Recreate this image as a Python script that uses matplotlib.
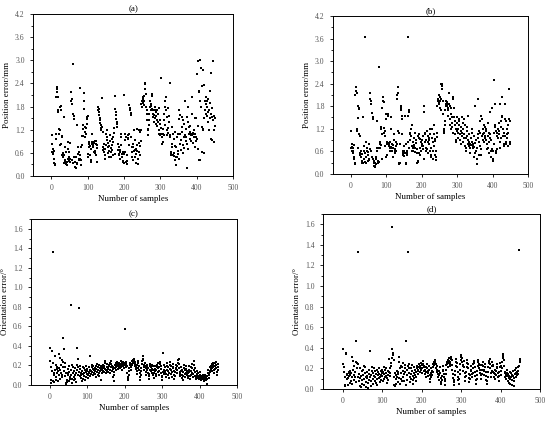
import numpy as np
import matplotlib
matplotlib.use("Agg")
import matplotlib.pyplot as plt
from matplotlib.ticker import MultipleLocator, FormatStrFormatter

plt.rcParams['font.family'] = ['Liberation Serif', 'DejaVu Serif']

# (a) position error, method 1 (mm)
pos_a = [
    1.05, 0.82, 0.63, 0.58, 0.69, 0.60, 0.66, 0.43, 0.33, 0.30,
    0.28, 0.95, 1.10, 2.05, 2.25, 2.30, 2.17, 2.04, 1.65, 1.70,
    1.10, 1.22, 1.20, 0.80, 1.78, 1.82, 1.70, 0.84, 1.00, 1.03,
    0.54, 0.50, 0.60, 0.55, 1.52, 0.33, 0.75, 0.41, 0.37, 0.30,
    0.63, 0.33, 0.37, 0.28, 0.45, 0.88, 0.71, 0.50, 0.40, 0.63,
    0.35, 0.45, 0.85, 2.17, 1.95, 1.87, 2.00, 0.41, 0.33, 2.91,
    1.61, 1.48, 1.55, 0.50, 0.37, 0.24, 0.20, 0.50, 0.20, 0.33,
    0.30, 1.31, 0.75, 0.58, 0.45, 0.41, 0.62, 0.55, 0.45, 2.28,
    0.41, 0.28, 0.75, 0.80, 1.03, 1.03, 1.22, 1.31, 1.74, 2.14,
    1.95, 1.27, 1.14, 1.01, 1.25, 1.10, 1.52, 1.48, 1.35, 1.55,
    0.58, 0.50, 0.75, 0.84, 0.88, 0.78, 0.54, 0.41, 0.37, 0.70,
    1.10, 0.88, 0.84, 0.88, 0.80, 0.75, 0.63, 0.85, 0.60, 0.90,
    0.65, 0.82, 0.90, 0.55, 0.35, 0.72, 0.80, 1.70, 1.78, 1.74,
    1.65, 1.57, 1.50, 1.44, 1.38, 1.31, 1.25, 1.18, 1.27, 2.02,
    1.14, 0.67, 0.75, 0.63, 0.84, 0.71, 0.45, 0.54, 0.70, 0.80,
    1.10, 0.93, 1.00, 1.18, 0.75, 0.60, 0.85, 0.65, 0.50, 0.78,
    0.90, 1.05, 0.62, 0.72, 0.48, 0.80, 0.95, 0.68, 0.55, 0.88,
    1.00, 1.12, 1.25, 0.58, 2.08, 1.74, 1.65, 1.57, 1.48, 1.40,
    1.35, 1.27, 0.84, 0.67, 0.58, 0.54, 0.75, 0.62, 0.45, 0.68,
    0.80, 1.10, 1.01, 0.50, 0.58, 0.62, 0.40, 0.37, 0.33, 0.58,
    2.10, 0.63, 1.10, 0.93, 0.35, 1.01, 0.30, 0.40, 0.55, 0.98,
    1.05, 0.95, 1.08, 0.80, 1.83, 1.76, 1.70, 1.62, 1.57, 1.02,
    0.75, 0.63, 0.50, 0.41, 0.84, 0.75, 0.65, 1.18, 0.93, 0.67,
    0.50, 0.33, 0.58, 0.71, 1.22, 0.80, 0.65, 0.45, 0.30, 0.62,
    0.85, 1.20, 0.78, 0.55, 1.15, 0.90, 1.20, 1.87, 1.80, 1.95,
    2.00, 2.04, 1.90, 1.95, 2.08, 1.85, 2.41, 2.38, 2.25, 2.12,
    1.78, 1.70, 1.60, 1.44, 1.22, 1.05, 1.20, 1.31, 1.45, 1.61,
    1.78, 1.95, 1.87, 1.70, 1.82, 2.08, 2.12, 1.74, 1.61, 1.52,
    1.70, 1.57, 1.40, 1.70, 1.78, 1.50, 1.35, 1.65, 1.55, 1.45,
    1.30, 1.72, 1.60, 1.40, 1.75, 1.20, 1.10, 1.05, 1.45, 1.35,
    1.25, 2.55, 1.10, 1.01, 0.84, 0.88, 1.10, 1.22, 1.05, 1.61,
    1.44, 1.31, 1.95, 1.78, 2.04, 1.70, 1.52, 1.20, 1.05, 1.12,
    1.25, 1.75, 1.55, 1.40, 1.00, 2.41, 1.05, 0.58, 0.54, 0.63,
    0.84, 0.75, 1.27, 1.10, 0.55, 0.60, 0.52, 0.95, 1.15, 0.78,
    0.41, 0.28, 0.50, 0.75, 1.01, 0.50, 0.58, 1.10, 0.65, 0.45,
    1.48, 1.70, 1.57, 1.10, 0.84, 0.67, 0.93, 1.27, 1.52, 1.14,
    1.44, 0.80, 0.60, 1.00, 1.35, 0.72, 1.05, 1.95, 0.90, 1.22,
    1.01, 0.84, 0.20, 1.52, 1.78, 1.40, 0.71, 1.10, 1.27, 1.30,
    0.95, 1.15, 1.05, 1.10, 0.90, 2.04, 1.60, 1.05, 1.12, 0.85,
    1.00, 1.18, 1.08, 1.50, 0.75, 1.08, 1.50, 1.02, 0.90, 0.95,
    2.65, 0.70, 1.30, 2.98, 2.17, 2.21, 0.41, 0.41, 1.95, 3.00,
    1.78, 2.81, 0.63, 2.34, 1.27, 1.20, 1.22, 2.75, 2.35, 0.60,
    1.50, 1.70, 1.95, 2.04, 1.87, 1.61, 1.80, 1.55, 1.95, 2.00,
    1.65, 1.40, 1.70, 1.20, 1.50, 1.88, 2.21, 2.68, 0.95, 1.60,
    0.93, 1.75, 1.52, 2.98, 1.45, 0.88, 1.20, 1.55, 1.30, 1.50,
]

# (b) position error, method 2 (mm)
pos_b = [
    1.15, 0.68, 0.60, 0.72, 0.80, 0.62, 0.70, 0.55, 0.45, 0.78,
    0.40, 0.28, 0.25, 2.10, 2.20, 2.30, 2.15, 1.20, 1.15, 0.70,
    1.48, 1.80, 1.72, 1.75, 1.05, 1.00, 0.50, 0.55, 0.45, 0.60,
    0.30, 0.52, 0.35, 0.28, 0.30, 1.50, 0.62, 0.75, 0.40, 0.32,
    3.65, 0.55, 0.30, 0.45, 0.85, 0.60, 0.70, 0.35, 0.50, 0.58,
    0.40, 0.80, 0.38, 0.65, 2.15, 2.00, 1.95, 1.85, 0.60, 0.45,
    1.62, 1.50, 1.45, 0.40, 0.30, 0.22, 0.35, 0.20, 0.18, 0.30,
    0.25, 0.45, 0.40, 1.40, 0.60, 0.70, 0.35, 0.28, 0.32, 0.68,
    2.85, 0.70, 0.80, 0.85, 0.78, 1.25, 1.20, 0.40, 1.05, 1.75,
    2.05, 1.95, 1.90, 1.22, 1.10, 1.00, 1.15, 0.75, 1.60, 1.45,
    0.45, 0.50, 0.80, 0.85, 0.82, 1.60, 1.55, 0.80, 0.75, 0.70,
    0.85, 0.62, 1.20, 1.50, 0.72, 0.80, 0.68, 0.60, 0.45, 0.78,
    0.70, 0.90, 1.05, 0.65, 0.60, 0.55, 0.75, 0.85, 0.62, 0.80,
    2.00, 2.10, 2.15, 2.30, 1.15, 1.10, 0.25, 0.30, 0.28, 0.80,
    1.80, 1.70, 1.75, 1.55, 1.45, 1.05, 0.60, 0.50, 0.55, 0.48,
    0.75, 0.62, 1.55, 0.55, 0.30, 0.25, 0.80, 0.55, 0.50, 0.60,
    0.85, 3.65, 1.55, 1.70, 1.65, 0.70, 0.90, 1.10, 1.05, 1.00,
    1.20, 1.30, 0.62, 0.75, 0.85, 0.60, 0.68, 0.78, 0.95, 0.72,
    0.70, 0.58, 1.10, 0.90, 0.82, 0.65, 0.55, 0.30, 0.35, 0.32,
    1.00, 1.05, 0.95, 0.55, 0.50, 0.70, 0.92, 0.85, 0.60, 0.75,
    0.90, 0.80, 1.00, 0.75, 0.65, 0.40, 1.80, 1.65, 0.85, 1.10,
    1.05, 0.90, 0.70, 0.60, 0.65, 1.15, 0.85, 0.55, 1.00, 0.95,
    0.80, 0.90, 1.20, 1.05, 0.60, 0.50, 0.45, 0.70, 0.95, 1.20,
    0.85, 0.40, 0.60, 0.75, 1.05, 1.30, 0.92, 0.88, 0.50, 0.38,
    0.45, 0.62, 1.10, 0.98, 1.80, 1.95, 2.00, 2.10, 1.90, 1.85,
    2.05, 1.75, 1.95, 2.00, 1.70, 2.40, 2.35, 2.40, 2.25, 1.95,
    1.60, 1.20, 1.10, 1.15, 1.30, 1.40, 1.70, 1.85, 1.95, 1.80,
    1.90, 1.85, 1.80, 1.75, 1.70, 1.55, 2.15, 1.85, 1.80, 1.45,
    1.30, 1.20, 1.75, 1.60, 1.50, 1.35, 1.25, 1.10, 2.05, 2.00,
    1.75, 1.50, 1.40, 1.30, 1.05, 0.90, 0.85, 1.20, 1.15, 1.50,
    1.35, 1.10, 0.95, 1.20, 1.45, 1.40, 1.30, 1.05, 0.90, 0.80,
    1.25, 1.15, 1.50, 1.10, 1.00, 0.85, 1.35, 1.20, 0.95, 1.05,
    1.45, 1.30, 0.75, 0.60, 0.70, 0.95, 1.15, 1.25, 1.00, 0.80,
    0.90, 1.55, 1.05, 0.85, 0.75, 0.55, 0.70, 0.80, 0.95, 0.78,
    1.10, 1.20, 0.85, 0.75, 0.68, 0.80, 1.00, 0.72, 0.45, 0.55,
    0.82, 1.80, 0.90, 0.60, 0.40, 0.70, 0.25, 1.05, 2.00, 0.95,
    0.50, 0.85, 1.15, 1.40, 0.75, 1.10, 0.50, 0.65, 1.55, 1.45,
    1.00, 1.20, 1.05, 0.90, 1.30, 0.85, 1.10, 1.00, 0.95, 1.25,
    0.90, 1.15, 1.20, 0.65, 0.80, 1.00, 0.70, 1.35, 1.10, 0.85,
    0.55, 0.95, 1.05, 1.65, 0.90, 0.60, 0.45, 0.65, 1.75, 0.40,
    0.35, 0.60, 1.10, 0.80, 2.50, 1.85, 1.25, 1.30, 1.15, 0.60,
    0.55, 0.65, 1.10, 1.00, 0.95, 1.20, 1.05, 1.35, 1.15, 0.85,
    1.85, 0.70, 0.95, 1.25, 1.40, 2.05, 1.55, 1.50, 1.20, 1.00,
    0.80, 1.10, 0.75, 1.00, 1.85, 1.45, 1.40, 0.80, 0.85, 1.20,
    1.05, 0.95, 1.30, 1.10, 0.75, 2.25, 1.45, 0.80, 1.40, 0.85,
]

# (c) orientation error, method 1 (deg)
ori_c = [
    0.38, 0.24, 0.18, 0.05, 0.02, 0.14, 0.35, 0.22, 0.04, 1.36,
    0.03, 0.12, 0.10, 0.30, 0.15, 0.20, 0.08, 0.05, 0.12, 0.18,
    0.16, 0.04, 0.14, 0.10, 0.17, 0.32, 0.28, 0.15, 0.06, 0.12,
    0.20, 0.25, 0.10, 0.08, 0.48, 0.18, 0.23, 0.37, 0.14, 0.22,
    0.09, 0.18, 0.12, 0.02, 0.01, 0.05, 0.03, 0.12, 0.16, 0.10,
    0.04, 0.19, 0.13, 0.06, 0.08, 0.15, 0.10, 0.82, 0.06, 0.20,
    0.02, 0.12, 0.18, 0.08, 0.05, 0.14, 0.10, 0.17, 0.06, 0.12,
    0.03, 0.15, 0.20, 0.38, 0.18, 0.10, 0.27, 0.79, 0.13, 0.09,
    0.19, 0.16, 0.07, 0.12, 0.10, 0.04, 0.14, 0.18, 0.11, 0.06,
    0.12, 0.17, 0.09, 0.15, 0.05, 0.13, 0.19, 0.08, 0.11, 0.14,
    0.16, 0.10, 0.07, 0.13, 0.18, 0.12, 0.09, 0.15, 0.30, 0.11,
    0.14, 0.18, 0.20, 0.13, 0.10, 0.16, 0.19, 0.12, 0.15, 0.17,
    0.11, 0.14, 0.08, 0.16, 0.19, 0.21, 0.13, 0.10, 0.15, 0.18,
    0.20, 0.12, 0.09, 0.14, 0.17, 0.19, 0.15, 0.05, 0.12, 0.16,
    0.18, 0.20, 0.14, 0.13, 0.17, 0.19, 0.16, 0.22, 0.24, 0.15,
    0.12, 0.14, 0.18, 0.21, 0.17, 0.13, 0.16, 0.19, 0.20, 0.22,
    0.15, 0.12, 0.18, 0.21, 0.24, 0.19, 0.14, 0.16, 0.18, 0.08,
    0.04, 0.10, 0.13, 0.17, 0.20, 0.22, 0.18, 0.15, 0.19, 0.21,
    0.23, 0.20, 0.16, 0.18, 0.22, 0.19, 0.20, 0.17, 0.21, 0.24,
    0.18, 0.15, 0.20, 0.22, 0.19, 0.23, 0.21, 0.17, 0.20, 0.57,
    0.22, 0.20, 0.18, 0.21, 0.23, 0.19, 0.12, 0.08, 0.05, 0.07,
    0.10, 0.14, 0.17, 0.20, 0.22, 0.18, 0.15, 0.19, 0.21, 0.24,
    0.20, 0.23, 0.25, 0.26, 0.24, 0.22, 0.19, 0.21, 0.23, 0.18,
    0.16, 0.20, 0.14, 0.11, 0.17, 0.22, 0.24, 0.19, 0.15, 0.12,
    0.08, 0.05, 0.10, 0.14, 0.17, 0.21, 0.24, 0.27, 0.30, 0.25,
    0.20, 0.18, 0.15, 0.19, 0.22, 0.17, 0.13, 0.10, 0.15, 0.18,
    0.20, 0.17, 0.12, 0.09, 0.06, 0.11, 0.15, 0.19, 0.21, 0.18,
    0.14, 0.12, 0.16, 0.20, 0.19, 0.15, 0.10, 0.07, 0.12, 0.16,
    0.19, 0.14, 0.09, 0.11, 0.15, 0.18, 0.20, 0.22, 0.17, 0.13,
    0.10, 0.14, 0.18, 0.21, 0.23, 0.19, 0.16, 0.12, 0.08, 0.05,
    0.09, 0.13, 0.33, 0.20, 0.15, 0.11, 0.14, 0.18, 0.12, 0.08,
    0.11, 0.15, 0.19, 0.22, 0.18, 0.14, 0.10, 0.07, 0.12, 0.16,
    0.20, 0.23, 0.19, 0.15, 0.11, 0.08, 0.13, 0.17, 0.21, 0.18,
    0.14, 0.10, 0.06, 0.09, 0.13, 0.17, 0.20, 0.16, 0.12, 0.15,
    0.19, 0.22, 0.25, 0.27, 0.21, 0.17, 0.13, 0.09, 0.11, 0.14,
    0.18, 0.15, 0.10, 0.07, 0.05, 0.09, 0.13, 0.17, 0.20, 0.15,
    0.11, 0.08, 0.12, 0.16, 0.19, 0.14, 0.10, 0.07, 0.09, 0.12,
    0.15, 0.19, 0.13, 0.09, 0.06, 0.10, 0.14, 0.18, 0.21, 0.17,
    0.12, 0.08, 0.11, 0.15, 0.20, 0.24, 0.17, 0.13, 0.09, 0.06,
    0.08, 0.11, 0.14, 0.10, 0.07, 0.09, 0.12, 0.08, 0.06, 0.10,
    0.13, 0.09, 0.07, 0.05, 0.08, 0.06, 0.09, 0.07, 0.10, 0.08,
    0.06, 0.04, 0.08, 0.10, 0.07, 0.09, 0.05, 0.08, 0.01, 0.06,
    0.09, 0.12, 0.15, 0.10, 0.07, 0.11, 0.14, 0.18, 0.13, 0.16,
    0.19, 0.21, 0.17, 0.14, 0.20, 0.22, 0.18, 0.15, 0.12, 0.16,
    0.19, 0.22, 0.23, 0.20, 0.17, 0.13, 0.10, 0.15, 0.18, 0.21,
]

# (d) orientation error, method 2 (deg)
ori_d = [
    0.39, 0.24, 0.21, 0.17, 0.04, 0.12, 0.03, 0.35, 0.34, 0.15,
    0.10, 0.14, 0.11, 0.04, 0.17, 0.16, 0.13, 0.06, 0.18, 0.14,
    0.08, 0.16, 0.12, 0.05, 0.31, 0.27, 0.19, 0.09, 0.14, 0.22,
    0.17, 0.12, 0.07, 0.47, 0.26, 0.25, 0.20, 0.12, 1.33, 0.24,
    0.08, 0.15, 0.20, 0.11, 0.03, 0.02, 0.13, 0.18, 0.09, 0.05,
    0.14, 0.19, 0.22, 0.10, 0.04, 0.16, 0.21, 0.12, 0.07, 0.02,
    0.11, 0.17, 0.13, 0.06, 0.01, 0.09, 0.15, 0.19, 0.37, 0.12,
    0.03, 0.08, 0.14, 0.18, 0.21, 0.10, 0.05, 0.16, 0.20, 0.13,
    0.08, 0.18, 0.12, 0.06, 0.15, 0.19, 0.10, 0.04, 0.14, 0.17,
    0.11, 0.20, 0.15, 0.07, 0.12, 0.18, 0.14, 0.09, 0.16, 0.19,
    0.13, 0.08, 0.17, 0.21, 0.15, 0.10, 0.12, 0.19, 0.13, 0.16,
    0.20, 0.11, 0.06, 0.14, 0.18, 0.09, 0.17, 0.29, 0.13, 0.16,
    0.20, 0.22, 0.25, 1.57, 0.30, 0.39, 0.35, 0.33, 0.28, 0.12,
    0.04, 0.03, 0.16, 0.10, 0.05, 0.14, 0.18, 0.12, 0.07, 0.17,
    0.15, 0.11, 0.31, 0.26, 0.20, 0.05, 0.10, 0.16, 0.22, 0.08,
    0.21, 0.18, 0.25, 0.12, 0.08, 0.15, 0.20, 0.23, 0.17, 0.04,
    0.47, 0.09, 0.14, 0.19, 0.22, 1.33, 0.24, 0.20, 0.16, 0.12,
    0.07, 0.10, 0.15, 0.20, 0.23, 0.18, 0.13, 0.09, 0.05, 0.11,
    0.16, 0.21, 0.19, 0.14, 0.08, 0.12, 0.17, 0.20, 0.22, 0.18,
    0.15, 0.19, 0.21, 0.24, 0.20, 0.17, 0.22, 0.25, 0.19, 0.16,
    0.20, 0.23, 0.27, 0.24, 0.21, 0.18, 0.22, 0.19, 0.15, 0.12,
    0.17, 0.21, 0.24, 0.20, 0.16, 0.13, 0.18, 0.22, 0.19, 0.14,
    0.10, 0.07, 0.12, 0.16, 0.20, 0.18, 0.14, 0.17, 0.21, 0.24,
    0.26, 0.23, 0.25, 0.28, 0.27, 0.24, 0.20, 0.17, 0.22, 0.19,
    0.15, 0.12, 0.09, 0.14, 0.18, 0.21, 0.16, 0.11, 0.07, 0.05,
    0.09, 0.13, 0.18, 0.22, 0.19, 0.15, 0.12, 0.08, 0.04, 0.10,
    0.15, 0.19, 0.23, 0.26, 0.24, 0.21, 0.25, 0.28, 0.30, 0.27,
    0.24, 0.22, 0.26, 0.29, 0.31, 0.28, 0.23, 0.19, 0.15, 0.11,
    0.07, 0.04, 0.09, 0.14, 0.18, 0.22, 0.26, 0.29, 0.25, 0.21,
    0.17, 0.12, 0.09, 0.05, 0.10, 0.15, 0.19, 0.24, 0.28, 0.31,
    0.33, 0.30, 0.26, 0.22, 0.18, 0.23, 0.27, 0.21, 0.16, 0.12,
    0.08, 0.13, 0.17, 0.21, 0.25, 0.28, 0.24, 0.20, 0.15, 0.11,
    0.07, 0.10, 0.14, 0.18, 0.22, 0.19, 0.15, 0.12, 0.16, 0.20,
    0.24, 0.27, 0.25, 0.21, 0.17, 0.13, 0.09, 0.05, 0.10, 0.14,
    0.18, 0.22, 0.26, 0.28, 0.24, 0.20, 0.16, 0.23, 0.19, 0.14,
    0.10, 0.15, 0.19, 0.23, 0.26, 0.22, 0.18, 0.14, 0.19, 0.24,
    0.21, 0.17, 0.13, 0.09, 0.05, 0.08, 0.12, 0.17, 0.21, 0.25,
    0.27, 0.29, 0.24, 0.20, 0.16, 0.12, 0.18, 0.22, 0.26, 0.23,
    0.22, 0.17, 0.12, 0.16, 0.19, 0.15, 0.10, 0.14, 0.18, 0.21,
    0.24, 0.20, 0.16, 0.12, 0.08, 0.13, 0.17, 0.21, 0.25, 0.22,
    0.18, 0.14, 0.20, 0.26, 0.30, 0.34, 0.32, 0.28, 0.22, 0.16,
    0.12, 0.17, 0.14, 0.10, 0.16, 0.19, 0.13, 0.08, 0.15, 0.11,
    0.06, 0.13, 0.17, 0.10, 0.05, 0.12, 0.16, 0.09, 0.04, 0.14,
    0.18, 0.13, 0.08, 0.03, 0.11, 0.15, 0.19, 0.12, 0.16, 0.20,
    0.17, 0.14, 0.21, 0.18, 0.15, 0.22, 1.35, 0.28, 0.29, 0.26,
]

panels = [
    ("(a)", pos_a, "Position error/mm", [0.060, 0.583, 0.364, 0.384], 4.2, 0.6, 0.3),
    ("(b)", pos_b, "Position error/mm", [0.605, 0.588, 0.355, 0.374], 4.2, 0.6, 0.3),
    ("(c)", ori_c, "Orientation error/°", [0.056, 0.088, 0.375, 0.393], 1.7, 0.2, 0.1),
    ("(d)", ori_d, "Orientation error/°", [0.587, 0.078, 0.395, 0.415], 1.7, 0.2, 0.1),
]

fig = plt.figure(figsize=(5.5, 4.22), dpi=100)

for title, vals, ylab, rect, ytop, ystep, yminor in panels:
    ax = fig.add_axes(rect)
    x = np.arange(1, len(vals) + 1)
    ax.scatter(x, vals, s=3.5, marker='s', color='black', linewidths=0)
    ax.set_xlim(-50, 500)
    ax.set_ylim(0, ytop)
    ax.xaxis.set_major_locator(MultipleLocator(100))
    ax.yaxis.set_major_locator(MultipleLocator(ystep))
    ax.yaxis.set_minor_locator(MultipleLocator(yminor))
    ax.yaxis.set_major_formatter(FormatStrFormatter('%.1f'))
    ax.tick_params(which='both', direction='out', labelsize=5.5,
                   labelcolor='#555555', width=0.6)
    ax.tick_params(which='major', length=2.5)
    ax.tick_params(which='minor', length=1.5)
    for sp in ax.spines.values():
        sp.set_linewidth(0.7)
    ax.set_title(title, fontsize=6.5, pad=2)
    ax.set_xlabel("Number of samples", fontsize=6.4, labelpad=2)
    ax.set_ylabel(ylab, fontsize=6.4, labelpad=3)

fig.savefig("out.png", dpi=100)
